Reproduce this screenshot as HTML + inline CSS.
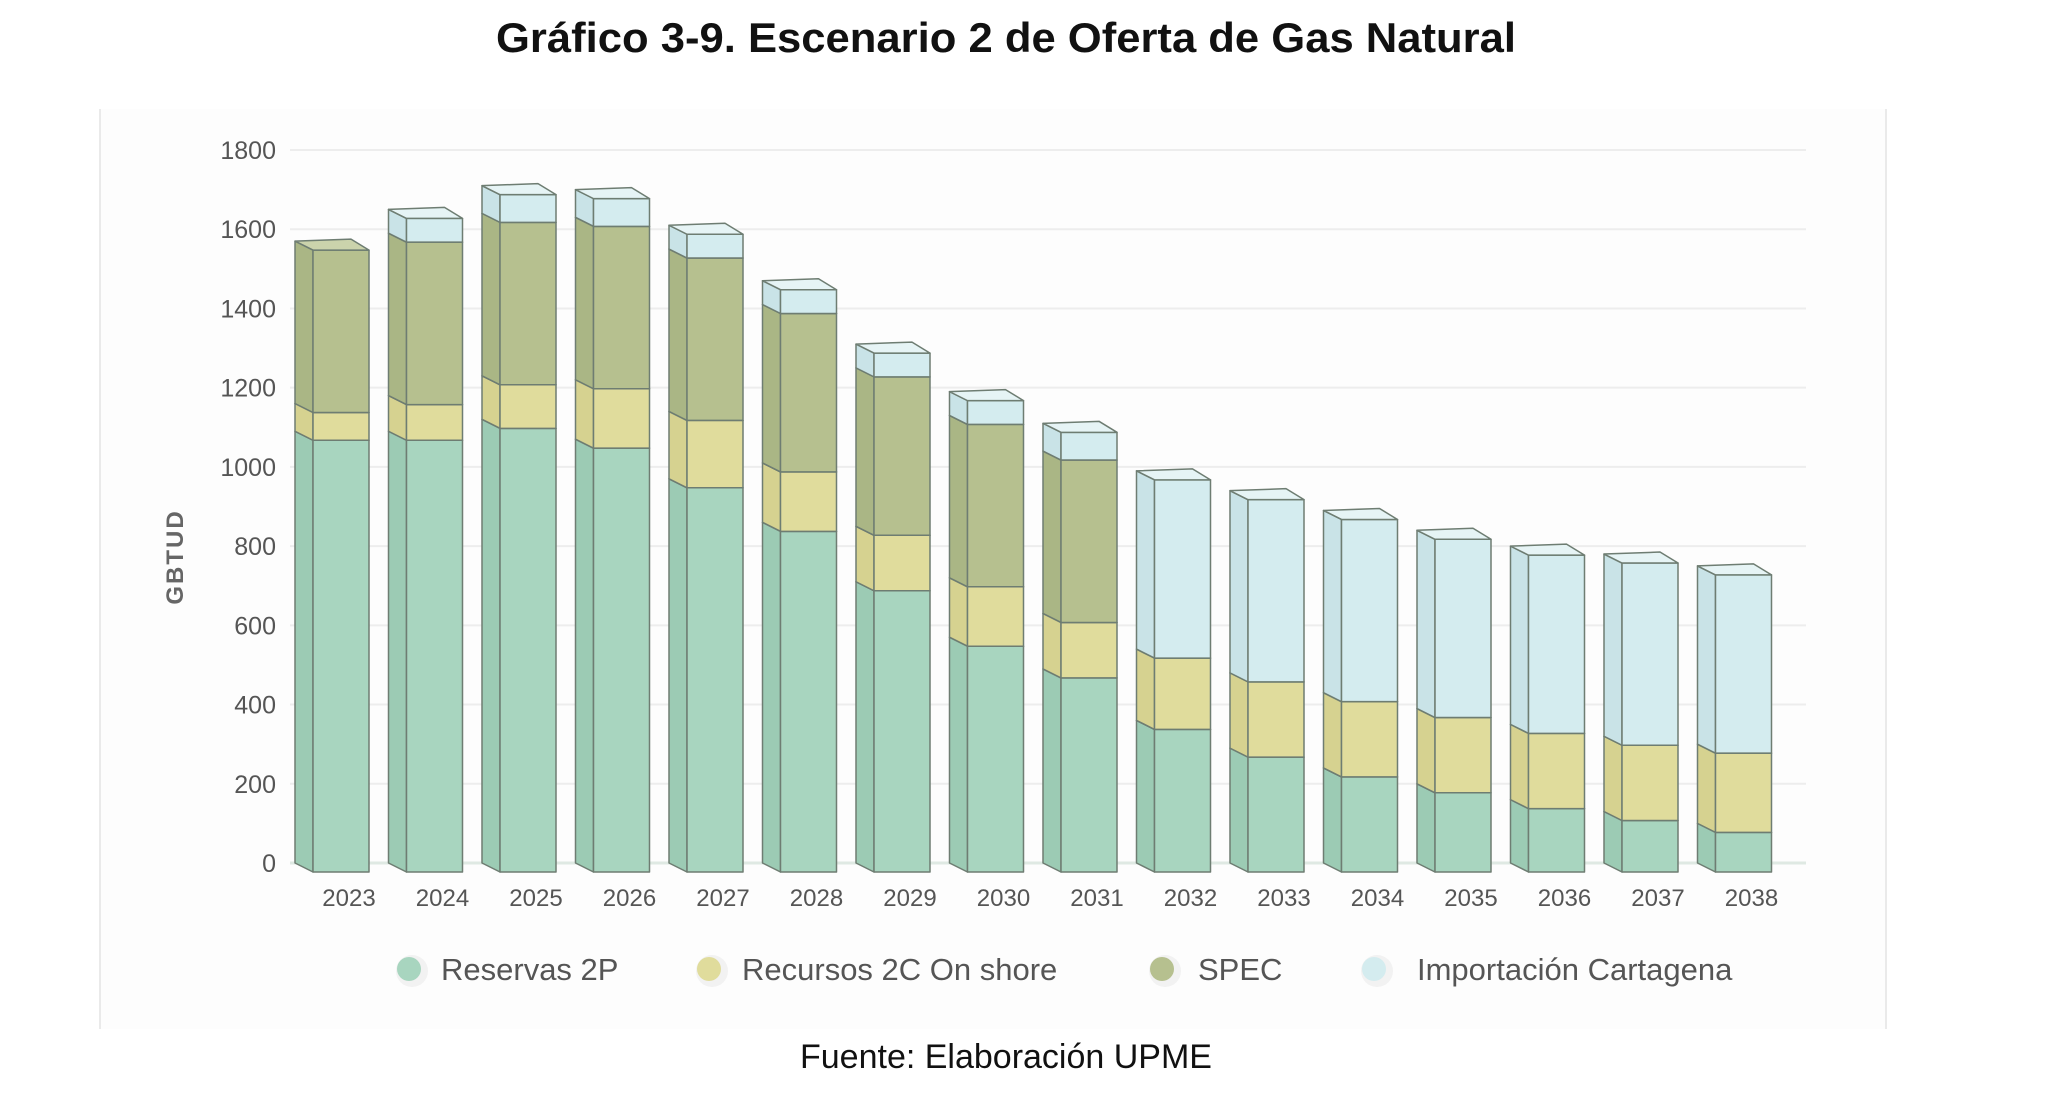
<!DOCTYPE html>
<html><head><meta charset="utf-8"><style>
html,body{margin:0;padding:0;background:#fff;}
body{width:2048px;height:1106px;overflow:hidden;position:relative;font-family:"Liberation Sans",sans-serif;}
</style></head><body>
<svg id="s" width="2048" height="1106" xmlns="http://www.w3.org/2000/svg" style="position:absolute;left:0;top:0">
<rect x="100" y="109" width="1786" height="920" fill="#fdfdfd"/>
<line x1="100" y1="109" x2="100" y2="1029" stroke="#e4e4e4" stroke-width="1.5"/>
<line x1="1886" y1="109" x2="1886" y2="1029" stroke="#e4e4e4" stroke-width="1.5"/>
<text x="1006" y="52" text-anchor="middle" font-size="42" font-weight="bold" fill="#111" textLength="1020" lengthAdjust="spacingAndGlyphs">Gráfico 3-9. Escenario 2 de Oferta de Gas Natural</text>
<text x="1006" y="1068" text-anchor="middle" font-size="34" fill="#111">Fuente: Elaboración UPME</text>
<text transform="translate(183,557) rotate(-90)" text-anchor="middle" font-size="24" font-weight="bold" fill="#666" letter-spacing="2">GBTUD</text>
<g id="g"></g>
</svg>
<script>
var g=document.getElementById('g'),h='';
function y(v){return 863-v*713/1800;}
for(var k=0;k<=9;k++){var v=k*200,yy=y(v);
h+='<line x1="290" x2="1806" y1="'+yy+'" y2="'+yy+'" stroke="'+(k==0?'#dfe9e3':'#ededed')+'" stroke-width="'+(k==0?3:2)+'"/>';
h+='<text x="276" y="'+(yy+9)+'" text-anchor="end" font-size="25" fill="#555">'+v+'</text>';}
var d=[[1070,1140,1550,1550],[1070,1160,1570,1630],[1100,1210,1620,1690],[1050,1200,1610,1680],[950,1120,1530,1590],[840,990,1390,1450],[690,830,1230,1290],[550,700,1110,1170],[470,610,1020,1090],[340,520,520,970],[270,460,460,920],[220,410,410,870],[180,370,370,820],[140,330,330,780],[110,300,300,760],[80,280,280,730]];
var col=['#a8d5bf','#e0dc9c','#b6c08f','#d4ecef'];
var tcol=['#c2e3d3','#ebe8b8','#cbd3ac','#e6f4f5'];
var scol=['#9ccbb4','#d6d290','#aab685','#c9e3e7'];
function box(X,b,t,i){var yb=(b==0?y(0):y(b+20)),yt=y(t+20),s='stroke="#6e7d72" stroke-width="1.5" stroke-linejoin="round"';
var r='<polygon points="'+X+','+yt+' '+(X+18)+','+(yt+9)+' '+(X+18)+','+(yb+9)+' '+X+','+yb+'" fill="'+scol[i]+'" '+s+'/>';
r+='<rect x="'+(X+18)+'" y="'+(yt+9)+'" width="56" height="'+(yb-yt)+'" fill="'+col[i]+'" '+s+'/>';
r+='<polygon points="'+X+','+yt+' '+(X+56)+','+(yt-2)+' '+(X+74)+','+(yt+9)+' '+(X+18)+','+(yt+9)+'" fill="'+tcol[i]+'" '+s+'/>';
return r;}
for(var i=0;i<16;i++){var X=295+i*93.5,p=0;
for(var j=0;j<4;j++){var t=d[i][j];if(t>p){h+=box(X,p,t,j);p=t;}}
h+='<text x="'+(X+54)+'" y="906" text-anchor="middle" font-size="24" fill="#555">'+(2023+i)+'</text>';}
var L=[[409,441,'Reservas 2P'],[709,742,'Recursos 2C On shore'],[1162,1198,'SPEC'],[1374,1417,'Importación Cartagena']];
for(var i=0;i<4;i++){h+='<circle cx="'+(L[i][0]+3)+'" cy="971" r="16" fill="#f2f2f2"/><circle cx="'+L[i][0]+'" cy="969" r="12" fill="'+col[i]+'"/>';
h+='<text x="'+L[i][1]+'" y="980" font-size="31" fill="#555">'+L[i][2]+'</text>';}
g.innerHTML=h;
</script>
</body></html>
